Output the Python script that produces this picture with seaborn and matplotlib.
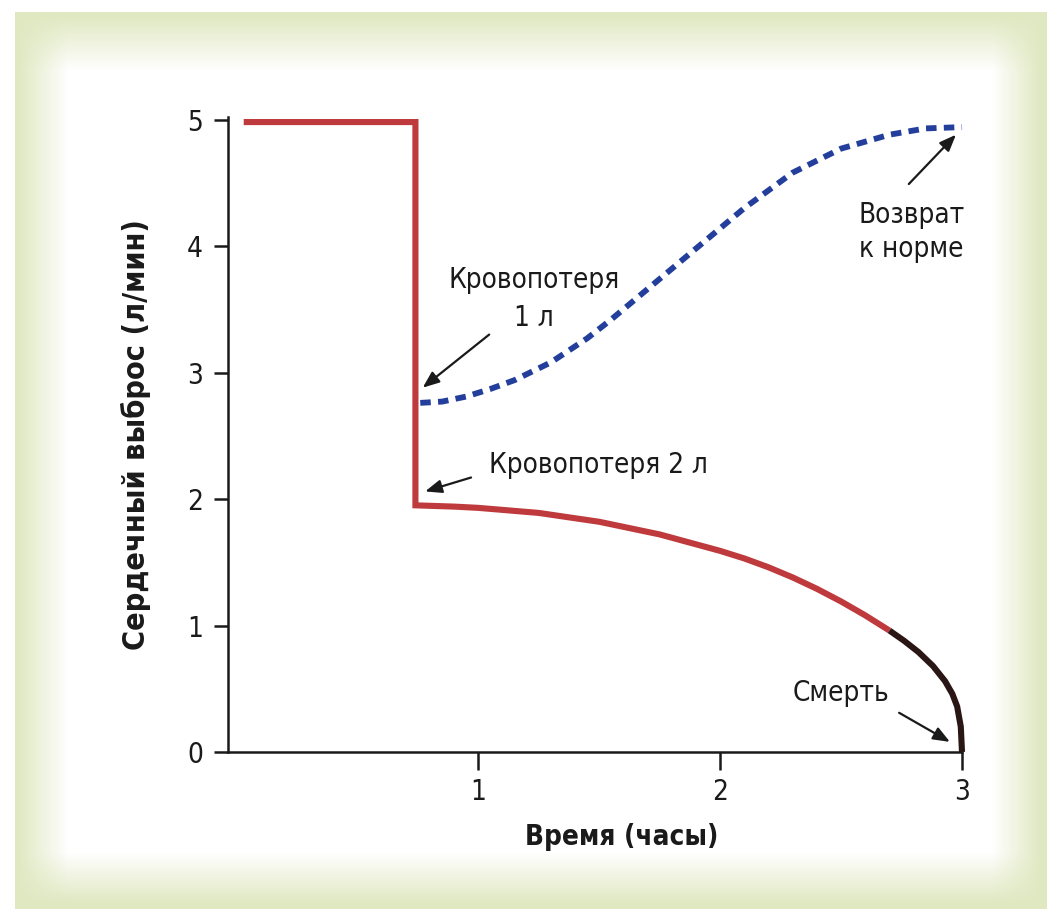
import matplotlib
matplotlib.use("Agg")
import matplotlib.pyplot as plt
from matplotlib import font_manager
import numpy as np
import pandas as pd
import seaborn as sns

# data: time (hours) vs cardiac output (l/min)
red_t = [0.03, 0.74, 0.74, 0.9, 1.0, 1.25, 1.5, 1.75, 2.0, 2.1, 2.2, 2.3, 2.4, 2.5, 2.6, 2.7]
red_y = [4.98, 4.98, 1.95, 1.94, 1.93, 1.89, 1.82, 1.72, 1.59, 1.53, 1.46, 1.38, 1.29, 1.19, 1.08, 0.96]
black_t = [2.7, 2.76, 2.82, 2.88, 2.93, 2.96, 2.98, 2.995, 3.0]
black_y = [0.96, 0.88, 0.79, 0.68, 0.56, 0.46, 0.36, 0.20, 0.0]
blue_t = [0.76, 0.85, 0.95, 1.05, 1.15, 1.3, 1.45, 1.55, 1.7, 1.9, 2.1, 2.3, 2.5, 2.7, 2.85, 3.0]
blue_y = [2.76, 2.77, 2.81, 2.87, 2.94, 3.08, 3.27, 3.42, 3.66, 3.98, 4.30, 4.58, 4.77, 4.88, 4.93, 4.94]

x_ticks = [1, 2, 3]
y_ticks = [0, 1, 2, 3, 4, 5]

sns.set_style("ticks")
installed = {f.name for f in font_manager.fontManager.ttflist}
if "Liberation Sans Narrow" in installed:
    plt.rcParams["font.family"] = ["Liberation Sans Narrow", "DejaVu Sans"]
    stretch = "normal"
else:
    plt.rcParams["font.family"] = ["DejaVu Sans"]
    stretch = "condensed"

W, H = 1050, 909
fig = plt.figure(figsize=(10.5, 9.09), dpi=100)

# greenish frame behind the chart
bg = fig.add_axes([0, 0, 1, 1])
bg.set_axis_off()
xx = np.arange(W)
yy = np.arange(H)


def ramp(v, a0, a1, b1, b0):
    # 1 at the frame edge, fading to 0 towards the white inner area
    out = np.clip((a1 - v) / (a1 - a0), 0, 1)
    return np.maximum(out, np.clip((v - b1) / (b0 - b1), 0, 1))


gx = ramp(xx, 18, 68, 992, 1040)
gy = ramp(yy, 16, 70, 852, 902)
g = 1 - (1 - gx[None, :]) * (1 - gy[:, None])
inside = ((xx[None, :] >= 15) & (xx[None, :] <= 1046) & (yy[:, None] >= 12)).astype(float)
g = g * inside
green = np.array([0.88, 0.91, 0.76])
img = np.ones((H, W, 3)) * (1 - g[..., None]) + green * g[..., None]
bg.imshow(img, extent=[0, 1, 0, 1], aspect="auto", zorder=0)
bg.set_xlim(0, 1)
bg.set_ylim(0, 1)

ax = fig.add_axes([228 / W, (H - 752) / H, (962 - 228) / W, (752 - 117) / H])
ax.set_facecolor("none")

red_df = pd.DataFrame({"t": red_t, "y": red_y})
black_df = pd.DataFrame({"t": black_t, "y": black_y})
blue_df = pd.DataFrame({"t": blue_t, "y": blue_y})

sns.lineplot(data=red_df, x="t", y="y", sort=False, estimator=None, color="#bf3a3c",
             lw=4.4, ax=ax, clip_on=False, solid_joinstyle="miter", solid_capstyle="butt")
sns.lineplot(data=black_df, x="t", y="y", sort=False, estimator=None, color="#2a1614",
             lw=4.4, ax=ax, clip_on=False, solid_capstyle="butt")
sns.lineplot(data=blue_df, x="t", y="y", sort=False, estimator=None, color="#233f9b",
             lw=4.2, ax=ax, clip_on=False, linestyle=(0, (1.8, 1.25)), dash_capstyle="butt")

ax.set_xlim(-0.035, 3.0)
ax.set_ylim(0, 5.02)
ax.set_xticks(x_ticks)
ax.set_yticks(y_ticks)
sns.despine(ax=ax)
for s in ["left", "bottom"]:
    ax.spines[s].set_linewidth(1.8)
    ax.spines[s].set_color("#1a1a1a")
ax.tick_params(axis="y", length=10, width=1.8, labelsize=20, pad=8, colors="#1a1a1a")
ax.tick_params(axis="x", length=13, width=1.8, labelsize=20, pad=6, colors="#1a1a1a")
for lab in ax.get_xticklabels() + ax.get_yticklabels():
    lab.set_fontstretch(stretch)

ax.set_xlabel("Время (часы)", fontsize=20, fontweight="bold", fontstretch=stretch,
              color="#1a1a1a")
ax.xaxis.set_label_coords(0.537, -0.112)
ax.set_ylabel("Сердечный выброс (л/мин)", fontsize=22, fontweight="bold",
              fontstretch=stretch, labelpad=26, color="#1a1a1a")

arrow = dict(arrowstyle="-|>,head_length=1.0,head_width=0.4", color="#1a1a1a",
             lw=1.6, shrinkA=0, shrinkB=0)
txt = dict(fontsize=20, color="#1a1a1a", fontstretch=stretch)

ax.text(1.23, 3.58, "Кровопотеря\n1 л", ha="center", va="center", linespacing=1.45, **txt)
ax.annotate("", xy=(0.77, 2.88), xytext=(1.045, 3.30), arrowprops=arrow)

ax.text(1.045, 2.27, "Кровопотеря 2 л", ha="left", va="center", **txt)
ax.annotate("", xy=(0.78, 2.06), xytext=(0.97, 2.17), arrowprops=arrow)

ax.text(2.79, 4.11, "Возврат\nк норме", ha="center", va="center", linespacing=1.3, **txt)
ax.annotate("", xy=(2.975, 4.88), xytext=(2.78, 4.49), arrowprops=arrow)

ax.text(2.50, 0.47, "Смерть", ha="center", va="center", **txt)
ax.annotate("", xy=(2.95, 0.08), xytext=(2.74, 0.31), arrowprops=arrow)

fig.savefig("out.png", dpi=100)
